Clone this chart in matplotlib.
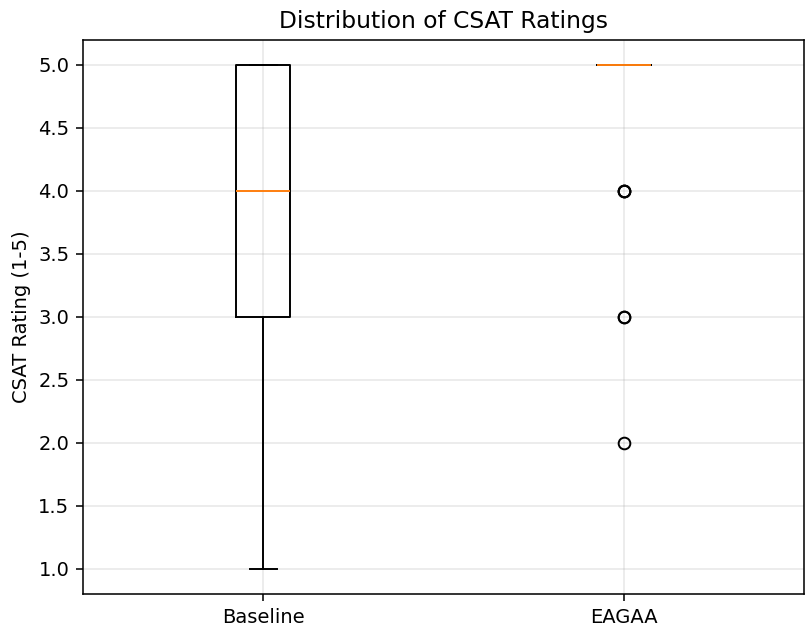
import matplotlib
matplotlib.use("Agg")
import matplotlib.pyplot as plt

# CSAT ratings per group (1-5 scale)
labels = ["Baseline", "EAGAA"]
baseline = [1, 2, 3, 3, 3, 4, 4, 4, 4, 5, 5, 5, 5, 5, 5]
eagaa = [5] * 24 + [4, 4, 4, 3, 3, 2]

dpi = 140
fig, ax = plt.subplots(figsize=(806 / dpi, 628 / dpi), dpi=dpi)
ax.boxplot([baseline, eagaa], tick_labels=labels)
ax.set_title("Distribution of CSAT Ratings")
ax.set_ylabel("CSAT Rating (1-5)")
ax.grid(True, alpha=0.3)
fig.subplots_adjust(left=0.103, right=0.998, top=0.937, bottom=0.054)
plt.savefig("out.png", dpi=dpi)
